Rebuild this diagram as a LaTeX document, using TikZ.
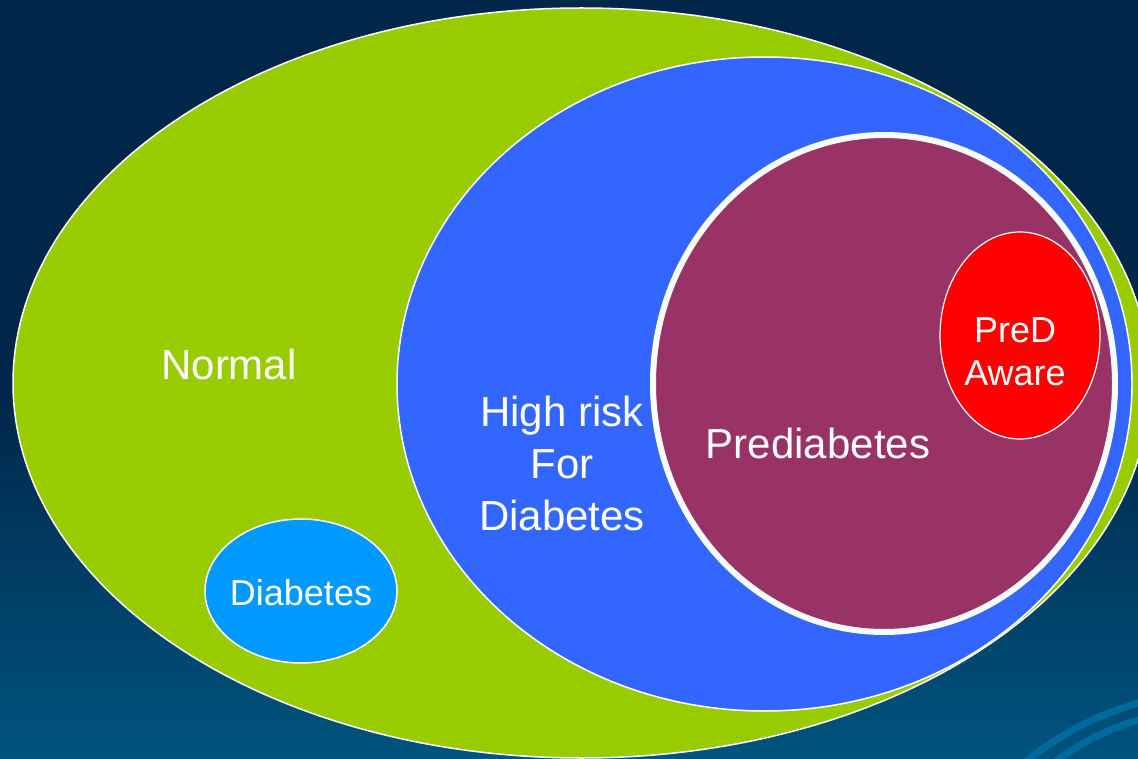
\documentclass[tikz,border=0pt]{standalone}
\usepackage{fontspec}
\setmainfont{Liberation Sans}
\usetikzlibrary{shapes.geometric}
\definecolor{bgtop}{HTML}{00264A}
\definecolor{bgbot}{HTML}{00547E}
\definecolor{cgreen}{HTML}{99CC00}
\definecolor{cblue}{HTML}{3366FF}
\definecolor{cpurple}{HTML}{993366}
\definecolor{cred}{HTML}{FF0000}
\definecolor{cdiab}{HTML}{0099FF}
\definecolor{swoosh}{HTML}{006A9E}
\tikzset{
  set/.style={ellipse, inner sep=0pt, outer sep=0pt, draw=white},
  lbl/.style={text=white, align=center, inner sep=0pt},
  big/.style={lbl, font=\fontsize{42}{52}\selectfont},
  small/.style={lbl, font=\fontsize{36}{43}\selectfont},
  swooshline/.style={draw=swoosh, line width=7pt}
}
\begin{document}
\begin{tikzpicture}[x=1pt,y=-1pt]
\useasboundingbox (0,0) rectangle (1138,759);
\clip (0,0) rectangle (1138,759);
% background
\fill[bgtop] (0,0) rectangle (1138,390);
\shade[top color=bgtop, bottom color=bgbot] (0,389) rectangle (1138,759);
% swooshes
\draw[swooshline] (1025,762) .. controls (1060,735) and (1095,715) .. (1142,702);
\draw[swooshline] (1055,762) .. controls (1085,740) and (1110,728) .. (1142,719);
% sets
\node[set, fill=cgreen, line width=1.5pt, minimum width=1137pt, minimum height=750pt] (normal) at (581.5,383) {};
\node[set, fill=cblue, line width=1.5pt, minimum width=735pt, minimum height=654pt] (highrisk) at (764.5,384) {};
\node[set, fill=cpurple, line width=6pt, minimum width=462pt, minimum height=497pt] (prediab) at (884,383.5) {};
\node[set, fill=cred, line width=1.2pt, minimum width=160pt, minimum height=207pt] (predaware) at (1020,335.5) {};
\node[set, fill=cdiab, line width=1.5pt, minimum width=192pt, minimum height=144pt] (diab) at (301,591) {};
% labels
\node[big] (tnormal) at (229,364) {Normal};
\node[big] (thighrisk) at (562,463) {High risk\\For\\Diabetes};
\node[big] (tprediab) at (818,443) {Prediabetes};
\node[small] (tpredaware) at (1015,352) {PreD\\Aware};
\node[small] (tdiab) at (301,593) {Diabetes};
\end{tikzpicture}
\end{document}
